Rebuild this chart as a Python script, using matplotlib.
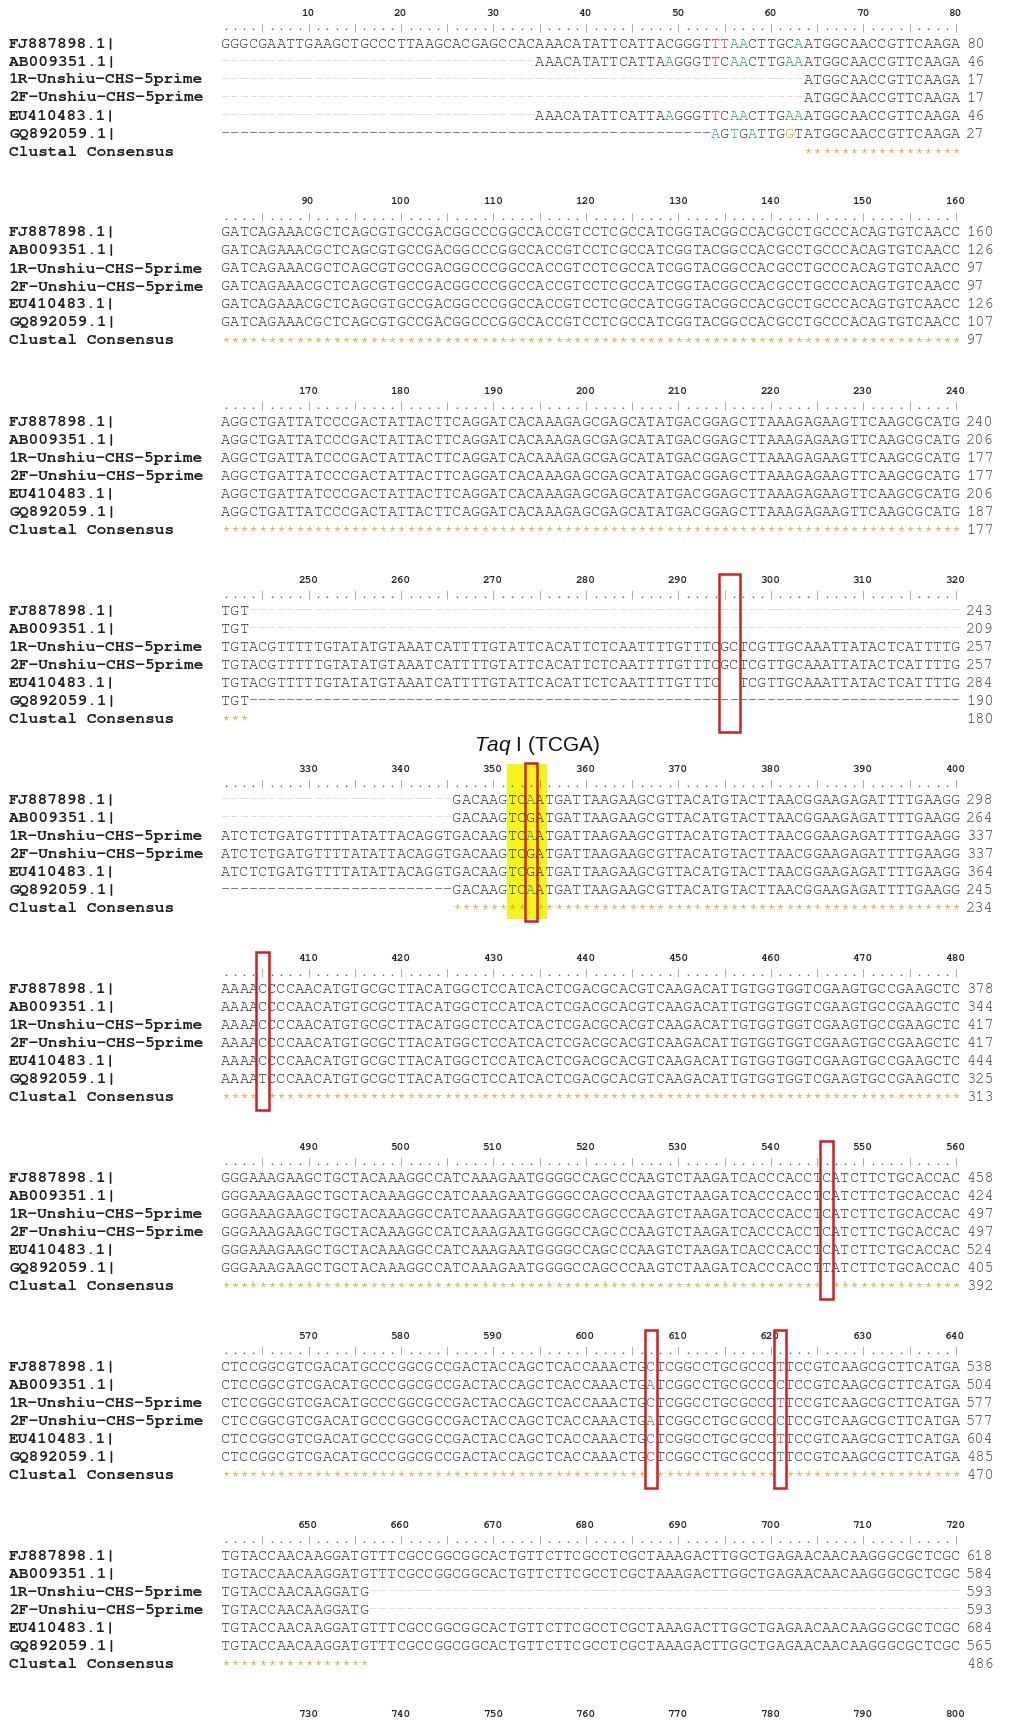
import matplotlib
matplotlib.use("Agg")
import matplotlib.pyplot as plt
from matplotlib.patches import Rectangle
from matplotlib import font_manager

# ---------------- data ----------------
seq_names = ["FJ887898.1|", "AB009351.1|", "1R-Unshiu-CHS-5prime",
             "2F-Unshiu-CHS-5prime", "EU410483.1|", "GQ892059.1|"]
consensus_name = "Clustal Consensus"

block_starts = [1, 81, 161, 241, 321, 401, 481, 561, 641, 721]

# '~' = faint gap, '-' = dark gap, ' ' = blank
B2 = "GATCAGAAACGCTCAGCGTGCCGACGGCCCGGCCACCGTCCTCGCCATCGGTACGGCCACGCCTGCCCACAGTGTCAACC"
B3 = "AGGCTGATTATCCCGACTATTACTTCAGGATCACAAAGAGCGAGCATATGACGGAGCTTAAAGAGAAGTTCAAGCGCATG"
B4_FULL = "TGTACGTTTTTGTATATGTAAATCATTTTGTATTCACATTCTCAATTTTGTTTCGCTCGTTGCAAATTATACTCATTTTG"
B4_EU = "TGTACGTTTTTGTATATGTAAATCATTTTGTATTCACATTCTCAATTTTGTTTC  TCGTTGCAAATTATACTCATTTTG"
B5_HEAD = "ATCTCTGATGTTTTATATTACAGGT"
B5_A = "GACAAGTCAATGATTAAGAAGCGTTACATGTACTTAACGGAAGAGATTTTGAAGG"
B5_G = "GACAAGTCGATGATTAAGAAGCGTTACATGTACTTAACGGAAGAGATTTTGAAGG"
B6_C = "AAAACCCCAACATGTGCGCTTACATGGCTCCATCACTCGACGCACGTCAAGACATTGTGGTGGTCGAAGTGCCGAAGCTC"
B6_T = "AAAATCCCAACATGTGCGCTTACATGGCTCCATCACTCGACGCACGTCAAGACATTGTGGTGGTCGAAGTGCCGAAGCTC"
B7_C = "GGGAAAGAAGCTGCTACAAAGGCCATCAAAGAATGGGGCCAGCCCAAGTCTAAGATCACCCACCTCATCTTCTGCACCAC"
B7_T = "GGGAAAGAAGCTGCTACAAAGGCCATCAAAGAATGGGGCCAGCCCAAGTCTAAGATCACCCACCTTATCTTCTGCACCAC"
B8_CT = "CTCCGGCGTCGACATGCCCGGCGCCGACTACCAGCTCACCAAACTGCTCGGCCTGCGCCCTTCCGTCAAGCGCTTCATGA"
B8_AC = "CTCCGGCGTCGACATGCCCGGCGCCGACTACCAGCTCACCAAACTGATCGGCCTGCGCCCCTCCGTCAAGCGCTTCATGA"
B9 = "TGTACCAACAAGGATGTTTCGCCGGCGGCACTGTTCTTCGCCTCGCTAAAGACTTGGCTGAGAACAACAAGGGCGCTCGC"
B9_SHORT = "TGTACCAACAAGGATG" + "~" * 64

fj_rows = ["GGGCGAATTGAAGCTGCCCTTAAGCACGAGCCACAAACATATTCATTACGGGTTTAACTTGCAATGGCAACCGTTCAAGA",
           B2, B3, "TGT" + "~" * 77, "~" * 25 + B5_A, B6_C, B7_C, B8_CT, B9]
ab_rows = ["~" * 34 + "AAACATATTCATTAAGGGTTCAACTTGAAATGGCAACCGTTCAAGA",
           B2, B3, "TGT" + "~" * 77, "~" * 25 + B5_G, B6_C, B7_C, B8_AC, B9]
r1_rows = ["~" * 63 + "ATGGCAACCGTTCAAGA",
           B2, B3, B4_FULL, B5_HEAD + B5_A, B6_C, B7_C, B8_CT, B9_SHORT]
f2_rows = ["~" * 63 + "ATGGCAACCGTTCAAGA",
           B2, B3, B4_FULL, B5_HEAD + B5_G, B6_C, B7_C, B8_AC, B9_SHORT]
eu_rows = ["~" * 34 + "AAACATATTCATTAAGGGTTCAACTTGAAATGGCAACCGTTCAAGA",
           B2, B3, B4_EU, B5_HEAD + B5_G, B6_C, B7_C, B8_CT, B9]
gq_rows = ["-" * 53 + "AGTGATTGGTATGGCAACCGTTCAAGA",
           B2, B3, "TGT" + "-" * 77, "-" * 25 + B5_A, B6_T, B7_T, B8_CT, B9]
cons_rows = [" " * 63 + "*" * 17,
             "*" * 80, "*" * 80, "***" + " " * 77,
             " " * 25 + "*" * 8 + " " + "*" * 46,
             "****" + " " + "*" * 75,
             "*" * 65 + " " + "*" * 14,
             "*" * 46 + " " + "*" * 13 + " " + "*" * 19,
             "*" * 16 + " " * 64]

fj_ends = [80, 160, 240, 243, 298, 378, 458, 538, 618]
ab_ends = [46, 126, 206, 209, 264, 344, 424, 504, 584]
r1_ends = [17, 97, 177, 257, 337, 417, 497, 577, 593]
f2_ends = [17, 97, 177, 257, 337, 417, 497, 577, 593]
eu_ends = [46, 126, 206, 284, 364, 444, 524, 604, 684]
gq_ends = [27, 107, 187, 190, 245, 325, 405, 485, 565]
cons_ends = [None, 97, 177, 180, 234, 313, 392, 470, 486]

# coloured residues: (block, row) -> {column: colour key}
residue_colors = {
    (0, 0): {54: "r", 55: "r", 56: "g", 57: "g", 63: "g"},
    (0, 1): {49: "g", 54: "r", 56: "g", 57: "g", 62: "g", 63: "g"},
    (0, 4): {49: "g", 54: "r", 56: "g", 57: "g", 62: "g", 63: "g"},
    (0, 5): {54: "t", 56: "t", 58: "g", 62: "o"},
    (4, 0): {34: "g"}, (4, 2): {34: "g"}, (4, 5): {34: "g"},
    (7, 0): {47: "b", 61: "r"}, (7, 1): {47: "g", 61: "b"},
    (7, 2): {47: "b", 61: "r"}, (7, 3): {47: "g", 61: "b"},
    (7, 4): {47: "b", 61: "r"}, (7, 5): {47: "r", 61: "b"},
}

# annotations: (block, first column, n columns)
red_boxes = [(3, 55, 2), (4, 34, 1), (5, 5, 1), (6, 66, 1), (7, 47, 1), (7, 61, 1)]
yellow_boxes = [(4, 32, 4)]
taq_label = r"$\it{Taq}$ I (TCGA)"

# ---------------- style / layout ----------------
W, H, DPI = 1017, 1726, 100
X0, CW = 221.0, 9.245
LABEL_X, NUM_X = 9, 966
Y0, BLOCK_P = 13, 189
TICK_DY, ROW0_DY, ROW_P = 15, 31, 18

installed = {f.name for f in font_manager.fontManager.ttflist}
serif_monos = [n for n in ["Courier New", "Nimbus Mono PS", "Nimbus Mono L", "FreeMono",
                           "Courier 10 Pitch", "Courier"] if n in installed]
MONO = serif_monos + ["Liberation Mono", "DejaVu Sans Mono"]
SEQ_FS = 11.1
COL = {"base": "#333333", "~": "#d6d6d6", "-": "#505050", "*": "#c9a227",
       "r": "#d03030", "g": "#2f9e5f", "t": "#3a93b3", "o": "#d9a520", "b": "#3d5a99"}

plt.rcParams["mathtext.fontset"] = "custom"
plt.rcParams["mathtext.it"] = "Liberation Sans:italic"
plt.rcParams["mathtext.rm"] = "Liberation Sans"

fig = plt.figure(figsize=(W / DPI, H / DPI), dpi=DPI)
ax = fig.add_axes([0, 0, 1, 1])
ax.set_xlim(0, W)
ax.set_ylim(H, 0)
ax.axis("off")


def col_center(c):  # c is 1-based column
    return X0 + (c - 0.5) * CW


def draw_row(y, s, overrides, fs=SEQ_FS):
    for i, ch in enumerate(s):
        c = i + 1
        if ch == " ":
            continue
        if ch in "~-*":
            colr = COL[ch]
        else:
            colr = COL[overrides[c]] if c in overrides else COL["base"]
        ax.text(col_center(c), y, "-" if ch == "~" else ch, family=MONO, fontsize=fs,
                color=colr, ha="center", va="center", zorder=3)


all_rows = [fj_rows, ab_rows, r1_rows, f2_rows, eu_rows, gq_rows]
all_ends = [fj_ends, ab_ends, r1_ends, f2_ends, eu_ends, gq_ends]

for b, start in enumerate(block_starts):
    yb = Y0 + b * BLOCK_P
    # ruler numbers
    for n in range(start + 9, start + 80, 10):
        c = n - start + 1
        ax.text(col_center(c) - 1, yb, str(n), family=MONO, fontsize=8,
                weight="bold", color="#222222", ha="center", va="center")
    if b >= len(fj_rows):
        continue
    # ruler ticks
    yt = yb + TICK_DY
    for c in range(1, 81):
        ch = "|" if c % 5 == 0 else "."
        ax.text(col_center(c), yt, ch, family=MONO, fontsize=8.5,
                color="#555555", ha="center", va="center")
    # sequences
    for r in range(6):
        y = yb + ROW0_DY + r * ROW_P
        ax.text(LABEL_X, y, seq_names[r], family=MONO, fontsize=11.7, weight="bold",
                color="#1e1e1e", ha="left", va="center")
        draw_row(y, all_rows[r][b], residue_colors.get((b, r), {}))
        ax.text(NUM_X, y, str(all_ends[r][b]), family=MONO, fontsize=SEQ_FS,
                color="#333333", ha="left", va="center")
    y = yb + ROW0_DY + 6 * ROW_P
    ax.text(LABEL_X, y, consensus_name, family=MONO, fontsize=11.7, weight="bold",
            color="#1e1e1e", ha="left", va="center")
    draw_row(y + 2, cons_rows[b], {})
    if cons_ends[b] is not None:
        ax.text(NUM_X, y, str(cons_ends[b]), family=MONO, fontsize=SEQ_FS,
                color="#333333", ha="left", va="center")

for b, c, n in yellow_boxes:
    yb = Y0 + b * BLOCK_P
    top = yb - 5
    bot = yb + ROW0_DY + 6 * ROW_P + 11
    ax.add_patch(Rectangle((X0 + (c - 1) * CW - 1, top), n * CW + 3, bot - top,
                           facecolor="#f4f41c", edgecolor="none", zorder=1))

for b, c, n in red_boxes:
    yb = Y0 + b * BLOCK_P
    top = yb - 6
    bot = yb + ROW0_DY + 6 * ROW_P + 13
    ax.add_patch(Rectangle((X0 + (c - 1) * CW - 1.5, top), n * CW + 3, bot - top,
                           facecolor="none", edgecolor="#cc2026", linewidth=1.8, zorder=4))

# Taq I label between blocks 4 and 5
yb5 = Y0 + 4 * BLOCK_P
ax.text(537, yb5 - 24, taq_label, family="Liberation Sans", fontsize=15,
        color="#111111", ha="center", va="center")

fig.savefig("out.png", dpi=DPI, facecolor="white")
